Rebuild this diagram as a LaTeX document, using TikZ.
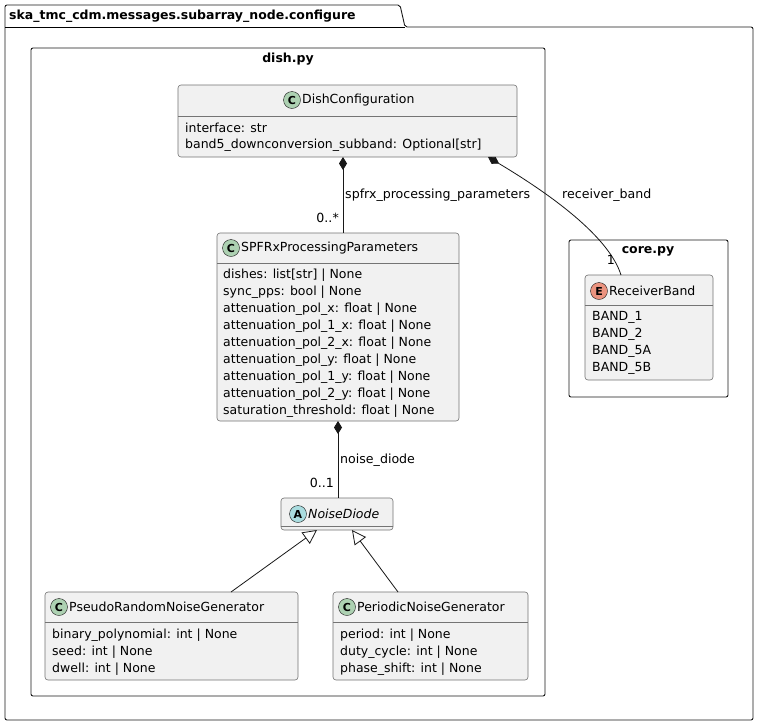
\documentclass[tikz,border=0pt]{standalone}
\usepackage{fontspec}
\setmainfont{DejaVu Sans}
\usetikzlibrary{arrows.meta}
\definecolor{bg}{HTML}{F1F1F1}
\definecolor{bd}{HTML}{181818}
\definecolor{cC}{HTML}{ADD1B2}
\definecolor{cA}{HTML}{A9DCDF}
\definecolor{cE}{HTML}{EB937F}
\begin{document}
\begin{tikzpicture}[x=1pt,y=-1pt,
 cls/.style={draw=bd!60,fill=bg,rounded corners=3pt,line width=0.6pt,inner sep=0pt},
 att/.style={anchor=west,font=\fontsize{12.5}{14}\selectfont,inner sep=0pt},
 ttl/.style={font=\fontsize{12.5}{14}\selectfont,inner sep=0pt,anchor=west},
 ico/.style={circle,draw=bd,fill=#1,minimum size=17pt,inner sep=0pt,font=\bfseries\fontsize{11}{12}\selectfont},
 lab/.style={font=\fontsize{12.6}{14}\selectfont,inner sep=0pt},
 pkg/.style={draw=bd,line width=0.9pt,rounded corners=2pt},
 con/.style={draw=bd,line width=0.8pt},
 comp/.style={con,{Diamond[length=13pt,width=8pt,fill=bd]}-},
 inh/.style={con,{Triangle[open,length=14pt,width=14pt,fill=white]}-}]
\useasboundingbox (0,0) rectangle (759,726);
% outer package
\draw[pkg,fill=white] (5,27) -- (5,5) -- (400,5) -- (405,27) -- (753,27) -- (753,720) -- (5,720) -- cycle;
\draw[line width=0.9pt] (5,27) -- (405,27);
\node[anchor=west,inner sep=0pt,font=\bfseries\fontsize{12.5}{14}\selectfont] (pk) at (9,16) {ska\_tmc\_cdm.messages.subarray\_node.configure};
% dish.py
\draw[pkg] (31,48) rectangle (545,696);
\node[inner sep=0pt,font=\bfseries\fontsize{12.5}{14}\selectfont] (dp) at (288,59) {dish.py};
% core.py
\draw[pkg] (569,240) rectangle (728,397);
\node[inner sep=0pt,font=\bfseries\fontsize{12.5}{14}\selectfont] (cp) at (648,251) {core.py};
% DishConfiguration
\node[cls,minimum width=339pt,minimum height=72pt] (dc) at (347.5,121) {};
\draw[bd!60,line width=0.6pt] (178,116) -- (517,116);
\node[ico=cC] (dci) at (292,100) {C};
\node[ttl] (dct) at (302,100) {DishConfiguration};
\node[att] at (185,128) {interface: str};
\node[att] at (185,145) {band5\_downconversion\_subband: Optional[str]};
% SPFRx
\node[cls,minimum width=242pt,minimum height=188pt] (sp) at (338,327) {};
\draw[bd!60,line width=0.6pt] (217,263) -- (459,263);
\node[ico=cC] at (231,248) {C};
\node[ttl] at (241,248) {SPFRxProcessingParameters};
\foreach \t [count=\i from 0] in {dishes: list[str] | None,sync\_pps: bool | None,attenuation\_pol\_x: float | None,attenuation\_pol\_1\_x: float | None,attenuation\_pol\_2\_x: float | None,attenuation\_pol\_y: float | None,attenuation\_pol\_1\_y: float | None,attenuation\_pol\_2\_y: float | None,saturation\_threshold: float | None}
  \node[att] at (223,275+17*\i) {\t};
% NoiseDiode
\node[cls,minimum width=112pt,minimum height=32pt] (nd) at (337,514) {};
\draw[bd!60,line width=0.6pt] (281,526) -- (393,526);
\node[ico=cA] at (298,514) {A};
\node[ttl,font=\itshape\fontsize{12.5}{14}\selectfont] at (308,514) {NoiseDiode};
% Pseudo
\node[cls,minimum width=253pt,minimum height=88pt] (pr) at (171.5,636) {};
\draw[bd!60,line width=0.6pt] (45,622) -- (298,622);
\node[ico=cC] at (59,607) {C};
\node[ttl] at (69,607) {PseudoRandomNoiseGenerator};
\node[att] at (52,635) {binary\_polynomial: int | None};
\node[att] at (52,652) {seed: int | None};
\node[att] at (52,669) {dwell: int | None};
% Periodic
\node[cls,minimum width=195pt,minimum height=88pt] (pn) at (430.5,636) {};
\draw[bd!60,line width=0.6pt] (333,622) -- (528,622);
\node[ico=cC] at (347,607) {C};
\node[ttl] at (357,607) {PeriodicNoiseGenerator};
\node[att] at (340,635) {period: int | None};
\node[att] at (340,652) {duty\_cycle: int | None};
\node[att] at (340,669) {phase\_shift: int | None};
% ReceiverBand
\node[cls,minimum width=128pt,minimum height=105pt] (rb) at (649,327.5) {};
\draw[bd!60,line width=0.6pt] (585,305) -- (713,305);
\node[ico=cE] at (599,291) {E};
\node[ttl] at (609,291) {ReceiverBand};
\foreach \t [count=\i from 0] in {BAND\_1,BAND\_2,BAND\_5A,BAND\_5B}
  \node[att] at (592,317+17*\i) {\t};
% connectors
\coordinate (a1) at (343,157); \coordinate (b1) at (343,233);
\draw[comp] (a1) -- (b1);
\node[lab,anchor=west] at (345,195) {spfrx\_processing\_parameters};
\node[lab,anchor=east] at (339,218) {0..*};
\coordinate (a2) at (488,157); \coordinate (b2) at (621,275);
\draw[comp] (a2) .. controls (560,200) and (610,240) .. (b2);
\node[lab,anchor=west] at (562,195) {receiver\_band};
\node[lab,anchor=east] at (615,260) {1};
\coordinate (a3) at (338,421); \coordinate (b3) at (338,498);
\draw[comp] (a3) -- (b3);
\node[lab,anchor=west] at (340,460) {noise\_diode};
\node[lab,anchor=east] at (334,483) {0..1};
\coordinate (a4) at (317,530); \coordinate (b4) at (231,592);
\draw[inh] (a4) -- (b4);
\coordinate (a5) at (352,530); \coordinate (b5) at (398,592);
\draw[inh] (a5) -- (b5);
\end{tikzpicture}
\end{document}
